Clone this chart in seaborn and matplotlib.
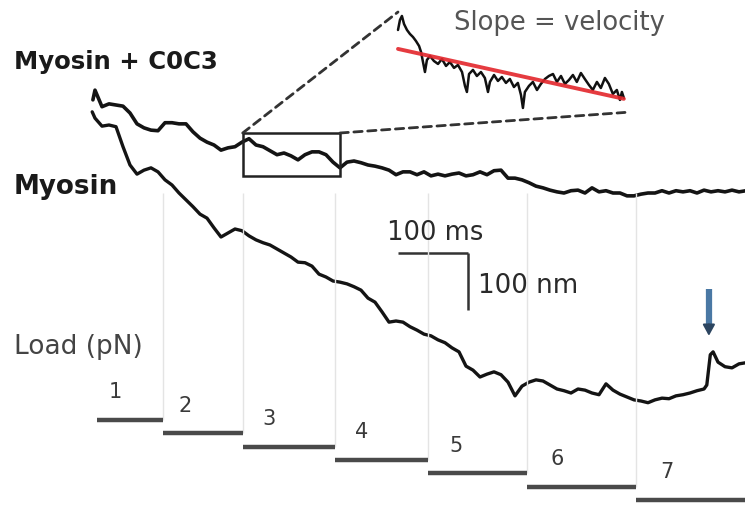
import numpy as np
import pandas as pd
import matplotlib
matplotlib.use("Agg")
import matplotlib.pyplot as plt
from matplotlib.patches import Rectangle, ConnectionPatch
import seaborn as sns

# ---------------- data ----------------
# Myosin + C0C3 trace: time (ms), position (nm)
c0c3_t = [-3, 0, 10, 20, 30, 40, 50, 60, 70, 80, 90, 100, 110, 120, 130, 140, 150, 160, 170, 180,
          190, 200, 210, 220, 230, 240, 250, 260, 270, 280, 290, 300, 310, 320, 330, 340, 350, 360,
          370, 380, 390, 400, 410, 420, 430, 440, 450, 460, 470, 480, 490, 500, 510, 520, 530, 540,
          550, 560, 570, 580, 590, 600, 610, 620, 630, 640, 650, 660, 670, 680, 690, 700, 710, 720,
          730, 740, 750, 760, 770, 780, 790, 800, 810, 820, 830, 840, 850, 860, 870, 880, 890, 900,
          910, 920, 930]
c0c3_nm = [709, 726, 697, 702, 700, 698, 686, 667, 660, 656, 655, 669, 669, 667, 667, 653, 642, 635,
           630, 621, 625, 627, 635, 641, 630, 627, 620, 613, 616, 611, 604, 613, 618, 618, 613, 600,
           590, 600, 602, 599, 595, 593, 590, 586, 578, 583, 583, 578, 583, 576, 579, 576, 579, 581,
           576, 578, 583, 578, 585, 586, 572, 572, 569, 564, 558, 555, 551, 548, 546, 550, 551, 546,
           555, 548, 550, 546, 546, 541, 541, 544, 546, 546, 550, 546, 550, 548, 550, 546, 551, 548,
           550, 548, 551, 548, 550]

# Myosin trace: time (ms), position (nm)
myo_t = [-4, 0, 10, 20, 30, 40, 50, 60, 70, 80, 90, 100, 110, 120, 130, 140, 150, 160, 170, 180,
         190, 200, 210, 220, 230, 240, 250, 260, 270, 280, 290, 300, 310, 320, 330, 340, 350, 360,
         370, 380, 390, 400, 410, 420, 430, 440, 450, 460, 470, 480, 490, 500, 510, 520, 530, 540,
         550, 560, 570, 580, 590, 600, 610, 620, 630, 640, 650, 660, 670, 680, 690, 700, 710, 720,
         730, 740, 750, 760, 770, 780, 790, 800, 810, 820, 830, 840, 850, 860, 870, 874, 879, 883,
         890, 900, 910, 920, 930]
myo_nm = [688, 677, 663, 665, 662, 627, 595, 579, 586, 590, 583, 569, 560, 546, 534, 522, 509, 502,
          485, 469, 476, 483, 480, 471, 464, 459, 455, 448, 441, 434, 425, 424, 418, 404, 399, 392,
          390, 387, 382, 376, 362, 355, 338, 320, 322, 320, 312, 306, 299, 296, 289, 284, 275, 268,
          243, 236, 224, 229, 233, 228, 215, 191, 208, 215, 219, 217, 210, 203, 200, 196, 203, 201,
          196, 193, 212, 201, 194, 189, 184, 182, 179, 184, 187, 186, 191, 193, 196, 200, 203, 210,
          263, 268, 250, 242, 240, 247, 249]

# Magnified (inset) segment of the Myosin + C0C3 trace
zoom_t = [211.0, 212.2, 213.4, 214.7, 216.5, 218.3, 220.2, 222.0, 223.9, 225.1, 226.3, 227.5, 228.7,
          230.6, 233.0, 235.5, 237.9, 240.4, 242.8, 245.3, 247.7, 250.2, 252.0, 253.2, 254.5, 256.9,
          259.3, 261.8, 264.2, 266.1, 267.3, 269.8, 272.2, 274.6, 277.1, 279.5, 282.0, 284.4, 286.3,
          287.5, 288.7, 291.2, 293.6, 296.1, 298.5, 301.0, 303.4, 305.9, 308.3, 310.8, 313.2, 315.7,
          318.1, 320.5, 323.0, 325.4, 327.9, 330.3, 332.8, 335.2, 337.7, 340.1, 342.6, 345.0, 346.9,
          348.1, 349.3]
zoom_nm = [636.5, 644.6, 647.8, 641.3, 636.5, 633.3, 630.8, 627.6, 623.6, 618.8, 610.7, 602.6, 612.3,
           615.5, 611.5, 609.1, 613.1, 607.5, 610.7, 605.9, 608.3, 602.6, 591.4, 586.5, 601.0, 604.3,
           599.4, 602.6, 597.8, 586.5, 594.6, 600.2, 595.4, 598.6, 593.8, 597.0, 590.5, 593.8, 584.1,
           573.6, 586.5, 591.4, 594.6, 588.1, 593.0, 597.0, 599.4, 601.0, 594.6, 599.4, 593.0, 596.2,
           600.2, 594.6, 601.8, 597.0, 592.2, 588.1, 594.6, 589.7, 597.8, 593.0, 584.9, 588.1, 580.1,
           586.5, 581.7]
zoom_window_t = [211, 350]
zoom_window_nm = [576, 651]

# Load clamp steps
load_pN = [1, 2, 3, 4, 5, 6, 7]
load_start_ms = [3, 97, 211, 343, 476, 617, 773]
load_end_ms = [97, 211, 343, 476, 617, 773, 930]
load_labels = ["1", "2", "3", "4", "5", "6", "7"]

scalebar_ms = 100
scalebar_nm = 100
release_ms = 877

# ---------------- figure ----------------
sns.set_theme(style="white")
plt.rcParams["font.family"] = ["DejaVu Sans"]

W, H = 745, 505
fig = plt.figure(figsize=(W / 100, H / 100), dpi=100)

ax = fig.add_axes([0, 0, 1, 1])
ax.set_xlim(-135.71, 928.57)
ax.set_ylim(0, 883.75)
ax.axis("off")

axl = fig.add_axes([0, 0, 1, 1], sharex=ax)
axl.set_ylim(7.375, -30.5)
axl.axis("off")
axl.patch.set_alpha(0)

trace_col = "#141414"
df_top = pd.DataFrame({"t": c0c3_t, "nm": c0c3_nm})
df_bot = pd.DataFrame({"t": myo_t, "nm": myo_nm})
sns.lineplot(data=df_top, x="t", y="nm", ax=ax, color=trace_col, lw=2.6, estimator=None, sort=False, zorder=5)
sns.lineplot(data=df_bot, x="t", y="nm", ax=ax, color=trace_col, lw=2.4, estimator=None, sort=False, zorder=5)
ax.set_xlabel(""); ax.set_ylabel("")

# boundaries between load steps (light gray verticals)
for i in range(1, len(load_pN)):
    axl.vlines(load_start_ms[i], -16, load_pN[i - 1], color="#e4e4e4", lw=1.0, zorder=1)

# load steps
step_col = "#4a4a4a"
for L, s, e, lab in zip(load_pN, load_start_ms, load_end_ms, load_labels):
    axl.hlines(L, s, e, color=step_col, lw=3.2, zorder=3)
    axl.annotate(lab, (s + 0.28 * (e - s), L), xytext=(0, 20), textcoords="offset points",
                 ha="center", va="center", fontsize=15, color="#3a3a3a")

# zoom box
ax.add_patch(Rectangle((zoom_window_t[0], zoom_window_nm[0]), zoom_window_t[1] - zoom_window_t[0],
                       zoom_window_nm[1] - zoom_window_nm[0], fill=False, ec="#222222", lw=1.8, zorder=6))

# inset
axi = fig.add_axes([398 / W, 1 - 105 / H, 227 / W, 93 / H])
axi.set_xlim(*zoom_window_t)
axi.set_ylim(*zoom_window_nm)
axi.axis("off")
axi.patch.set_alpha(0)
df_zoom = pd.DataFrame({"t": zoom_t, "nm": zoom_nm})
sns.lineplot(data=df_zoom, x="t", y="nm", ax=axi, color="#111111", lw=1.8, estimator=None, sort=False)
sns.regplot(data=df_zoom, x="t", y="nm", ax=axi, scatter=False, ci=None, truncate=True,
            line_kws=dict(color="#e3262b", lw=2.8, alpha=0.9, zorder=6))
for ln in axi.lines:
    ln.set_clip_on(False)
axi.set_xlabel(""); axi.set_ylabel("")

for xyA, xyB in [((zoom_window_t[0], zoom_window_nm[1]), (0.0, 1.0)),
                 ((zoom_window_t[1], zoom_window_nm[1]), (1.0, -0.08))]:
    con = ConnectionPatch(xyA=xyA, coordsA=ax.transData, xyB=xyB, coordsB=axi.transAxes,
                          ls=(0, (3, 2)), lw=2.0, color="#333333", zorder=4)
    fig.add_artist(con)

# scale bars
sb_t0, sb_nm0 = 433, 441
ax.plot([sb_t0, sb_t0 + scalebar_ms], [sb_nm0, sb_nm0], color="#333333", lw=1.8, solid_capstyle="butt")
ax.plot([sb_t0 + scalebar_ms, sb_t0 + scalebar_ms], [sb_nm0, sb_nm0 - scalebar_nm], color="#333333",
        lw=1.8, solid_capstyle="butt")
fig.text(387 / W, 1 - 233 / H, f"{scalebar_ms} ms", ha="left", va="center", fontsize=18.5, color="#2a2a2a")
fig.text(478 / W, 1 - 286 / H, f"{scalebar_nm} nm", ha="left", va="center", fontsize=18.8, color="#2a2a2a")

# release arrow: blue shaft with a dark head
ax.plot([release_ms, release_ms], [378, 312], color="#4a78a4", lw=4.5, solid_capstyle="butt", zorder=7)
ax.annotate("", xy=(release_ms, 296), xytext=(release_ms, 316),
            arrowprops=dict(arrowstyle="-|>,head_width=0.3,head_length=0.55", color="#2c4560", lw=1.5,
                            shrinkA=0, shrinkB=0), zorder=8)

# labels
fig.text(14 / W, 1 - 62 / H, "Myosin + C0C3", ha="left", va="center", fontsize=17.6, fontweight="bold",
         color="#1a1a1a")
fig.text(14 / W, 1 - 187 / H, "Myosin", ha="left", va="center", fontsize=18.8, fontweight="bold",
         color="#1a1a1a")
fig.text(14 / W, 1 - 347 / H, "Load (pN)", ha="left", va="center", fontsize=19, color="#444444")
fig.text(454 / W, 1 - 23 / H, "Slope = velocity", ha="left", va="center", fontsize=18.6, color="#555555")

fig.savefig("out.png", dpi=100)
